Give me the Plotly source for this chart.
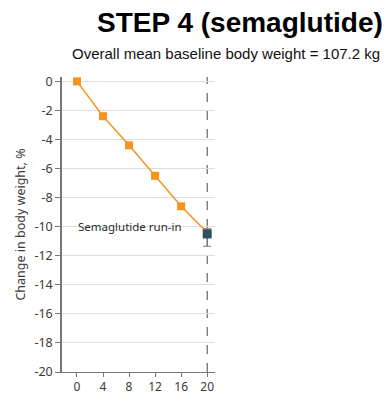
import plotly.graph_objects as go

weeks = [0, 4, 8, 12, 16, 20]
change = [0.0, -2.4, -4.4, -6.5, -8.6, -10.4]
err = [0.1, 0.15, 0.15, 0.17, 0.18, 0.2]
end_week = [20]
end_change = [-10.5]
end_err_plus = [0.35]
end_err_minus = [0.85]
x_ticks = [0, 4, 8, 12, 16, 20]
y_ticks = [0, -2, -4, -6, -8, -10, -12, -14, -16, -18, -20]
y_tick_text = ["0", "-2", "-4", "-6", "-8", "-10", "-12", "-14", "-16", "-18", "-20"]

ORANGE = "#F7941D"
TEAL = "#2C5364"
TXT = "#3a3a3a"
FONT = "Noto Sans, Open Sans, sans-serif"
TFONT = "Liberation Sans, Arial, sans-serif"

PL, PW, PT = 62, 153, 77

fig = go.Figure()
fig.add_trace(go.Scatter(
    x=weeks, y=change, mode="lines+markers",
    line=dict(color=ORANGE, width=1.5),
    marker=dict(symbol="square", size=8, color=ORANGE),
    error_y=dict(type="data", array=err, color=ORANGE, width=4, thickness=1),
    cliponaxis=False, showlegend=False))
fig.add_trace(go.Scatter(
    x=end_week, y=end_change, mode="markers",
    marker=dict(symbol="square", size=9, color=TEAL),
    error_y=dict(type="data", symmetric=False, array=end_err_plus,
                 arrayminus=end_err_minus, color="#777777", width=4, thickness=1),
    cliponaxis=False, showlegend=False))

fig.add_shape(type="line", x0=20, x1=20, y0=-20, y1=0.35,
              xref="x", yref="y", line=dict(color="#444444", width=1, dash="dash"),
              layer="below")

fig.add_annotation(x=8.2, y=-10, xref="x", yref="y", text="Semaglutide run-in",
                   showarrow=False, font=dict(family=FONT, size=11.5, color="#2a2a2a"))

fig.add_annotation(x=(226 - PL) / PW, y=1.0, xref="paper", yref="paper",
                   xanchor="center", yanchor="middle", yshift=PT - 53,
                   text="Overall mean baseline body weight = 107.2 kg",
                   showarrow=False, font=dict(family=TFONT, size=15, color="#111111"))
fig.add_annotation(x=(240 - PL) / PW, y=1.0, xref="paper", yref="paper",
                   xanchor="center", yanchor="middle", yshift=PT - 22,
                   text="<b>STEP 4 (semaglutide)</b>",
                   showarrow=False, font=dict(family=TFONT, size=28, color="#000000"))

fig.update_layout(
    width=388, height=394,
    margin=dict(l=PL, r=388 - PL - PW, t=PT, b=22, autoexpand=False),
    paper_bgcolor="white", plot_bgcolor="white",
    font=dict(family=FONT, size=12, color=TXT),
    xaxis=dict(range=[-2.3, 21.2], tickvals=x_ticks, ticks="outside", ticklen=4,
               tickcolor="#777777", showline=True, linecolor="#777777", linewidth=1,
               showgrid=False, zeroline=False, tickfont=dict(size=12, color=TXT),
               automargin=False),
    yaxis=dict(range=[-20, 0.3], tickvals=y_ticks, ticktext=y_tick_text,
               ticks="outside", ticklen=5,
               tickcolor="#777777", showline=True, linecolor="#777777", linewidth=1.5,
               showgrid=True, gridcolor="#dedede", gridwidth=1, zeroline=False,
               tickfont=dict(size=12.5, color=TXT), automargin=False,
               title=dict(text="Change in body weight, %", standoff=6,
                          font=dict(size=12.5, color=TXT))),
)

fig.write_html("out.html")
